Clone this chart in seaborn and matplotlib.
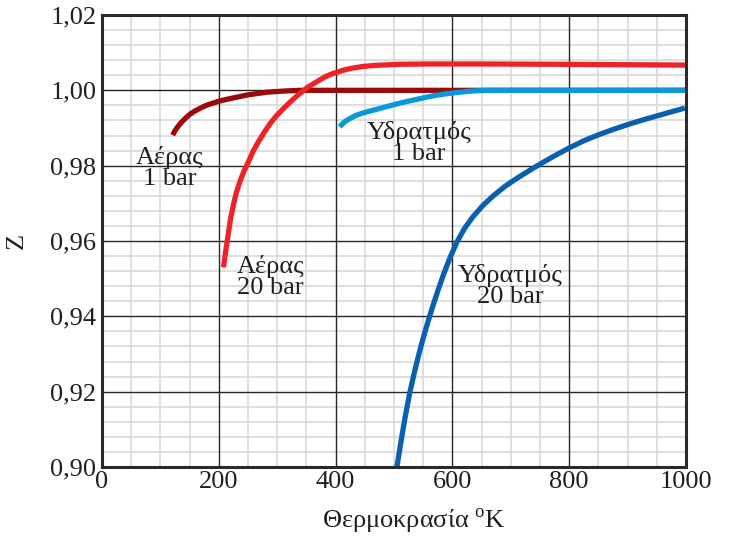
import matplotlib
matplotlib.use("Agg")
import matplotlib.pyplot as plt
import seaborn as sns
import pandas as pd
from matplotlib.ticker import FixedLocator, FuncFormatter

# ---- data ----
air1_T = [121, 125, 130, 136, 143, 151, 160, 170, 180, 202, 225, 250, 282, 310, 339, 400, 600, 800, 1000]
air1_Z = [0.9881, 0.9893, 0.9904, 0.9915, 0.9926, 0.9937, 0.9946, 0.9954, 0.9961, 0.9972, 0.9980, 0.9988, 0.9995, 0.9998, 1.0000, 1.0000, 1.0000, 1.0000, 1.0000]

air20_T = [208, 211, 216, 220, 225, 230, 236, 243, 251, 259, 268, 278, 288, 299, 311, 325, 339, 353, 368, 382, 396, 410, 425, 445, 465, 505, 560, 650, 800, 1000]
air20_Z = [0.9530, 0.9565, 0.9616, 0.9658, 0.9696, 0.9728, 0.9757, 0.9785, 0.9811, 0.9839, 0.9864, 0.9889, 0.9912, 0.9933, 0.9952, 0.9973, 0.9992, 1.0009, 1.0023, 1.0036, 1.0045, 1.0052, 1.0058, 1.0063, 1.0066, 1.0069, 1.0070, 1.0070, 1.0069, 1.0067]

h1_T = [407, 411, 416, 422, 429, 436, 447, 461, 476, 490, 505, 521, 539, 556, 573, 590, 607, 624, 642, 660, 676, 800, 1000]
h1_Z = [0.9903, 0.9910, 0.9917, 0.9923, 0.9929, 0.9934, 0.9940, 0.9946, 0.9952, 0.9958, 0.9964, 0.9970, 0.9976, 0.9982, 0.9987, 0.9991, 0.9994, 0.9997, 0.9999, 1.0000, 1.0000, 1.0000, 1.0000]

h20_T = [505, 512, 519, 527, 535, 543, 551, 559, 567, 576, 585, 596, 608, 621, 635, 652, 670, 690, 710, 740, 770, 801, 825, 850, 875, 900, 925, 950, 975, 998]
h20_Z = [0.9000, 0.9068, 0.9132, 0.9197, 0.9252, 0.9302, 0.9348, 0.9390, 0.9430, 0.9472, 0.9512, 0.9556, 0.9598, 0.9634, 0.9664, 0.9694, 0.9720, 0.9745, 0.9766, 0.9795, 0.9822, 0.9848, 0.9866, 0.9882, 0.9896, 0.9909, 0.9921, 0.9932, 0.9943, 0.9953]

series_names = ["Αέρας 1 bar", "Αέρας 20 bar", "Υδρατμός 1 bar", "Υδρατμός 20 bar"]
series_colors = ["#9a0a0a", "#ee2329", "#0a98d8", "#0a60ae"]

labels = ["Αέρας\n1 bar", "Αέρας\n20 bar", "Υδρατμός\n1 bar", "Υδρατμός\n20 bar"]
label_T = [116, 289, 543, 699]
label_Z = [0.9794, 0.9504, 0.9860, 0.9480]

xticks = [0, 200, 400, 600, 800, 1000]
yticks = [0.90, 0.92, 0.94, 0.96, 0.98, 1.00, 1.02]

frames = []
for name, T, Z in zip(series_names, [air1_T, air20_T, h1_T, h20_T], [air1_Z, air20_Z, h1_Z, h20_Z]):
    frames.append(pd.DataFrame({"T": T, "Z": Z, "series": name}))
df = pd.concat(frames, ignore_index=True)

sns.set_theme(style="white")
plt.rcParams['font.family'] = ['Liberation Serif', 'DejaVu Serif']
plt.rcParams['mathtext.fontset'] = 'custom'
plt.rcParams['mathtext.rm'] = 'Liberation Serif'

fig = plt.figure(figsize=(7.29, 5.41), dpi=100)
ax = fig.add_axes([102/729, 1 - 467/541, (686-102)/729, (467-15)/541])

# minor grid (below everything)
minor_x = [v for v in range(50, 1000, 50) if v % 200 != 0]
minor_y = [round(0.90 + 0.004 * i, 3) for i in range(1, 30) if i % 5 != 0]
ax.xaxis.set_minor_locator(FixedLocator(minor_x))
ax.yaxis.set_minor_locator(FixedLocator(minor_y))
ax.grid(which="minor", color="#d6d6d6", linewidth=1.1)
ax.grid(which="major", visible=False)
ax.set_axisbelow(True)
# major grid on top of the minor one
for xv in xticks[1:-1]:
    ax.axvline(xv, color="#262626", linewidth=1.0, zorder=1.5)
for yv in yticks[1:-1]:
    ax.axhline(yv, color="#262626", linewidth=1.0, zorder=1.5)

sns.lineplot(data=df, x="T", y="Z", hue="series", palette=dict(zip(series_names, series_colors)),
             hue_order=series_names, sort=False, estimator=None, linewidth=3.8, legend=False, ax=ax,
             zorder=3)
for line in ax.get_lines():
    if line.get_linewidth() > 3:
        line.set_solid_capstyle("butt")
        line.set_solid_joinstyle("round")

for txt, tx, ty in zip(labels, label_T, label_Z):
    ax.text(tx, ty, txt, ha="center", va="center", fontsize=19, color="#231f20",
            linespacing=0.92, zorder=4)

ax.set_xlim(0, 1000)
ax.set_ylim(0.90, 1.02)
ax.set_xticks(xticks)
ax.set_yticks(yticks)
ax.yaxis.set_major_formatter(FuncFormatter(lambda v, p: f"{v:.2f}".replace(".", ",")))
ax.tick_params(axis="both", which="both", length=0, labelsize=19, colors="#231f20")
ax.tick_params(axis="y", pad=4)
ax.tick_params(axis="x", pad=3)

for s in ax.spines.values():
    s.set_visible(True)
    s.set_color("#2a2a2a")
    s.set_linewidth(2.2)
    s.set_zorder(5)

ax.set_xlabel("Θερμοκρασία $^{\\mathrm{o}}$K", fontsize=19, color="#231f20", labelpad=10)
ax.xaxis.label.set_x(0.5 + 20/584)
ax.set_ylabel("Z", fontsize=19, color="#231f20", labelpad=16)

fig.savefig("out.png", dpi=100)
